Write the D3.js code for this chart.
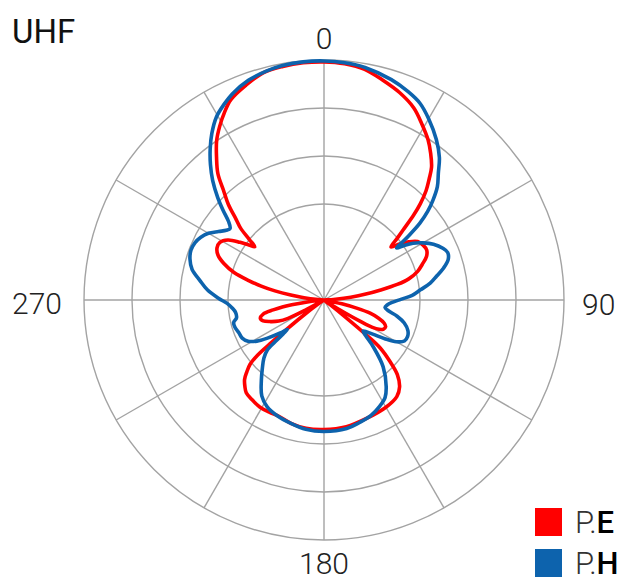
<!DOCTYPE html>
<html>
<head>
<meta charset="utf-8">
<script src="https://cdn.jsdelivr.net/npm/d3@7"></script>
<style>
  body { margin: 0; background: #fff; }
  text { font-family: Roboto, "Liberation Sans", sans-serif; }
</style>
</head>
<body>
<div id="chart"></div>
<script>
// pattern values (dB), angle in degrees clockwise from top
var eAngles = [0, 5, 10, 15, 20, 25, 29, 33, 36, 39, 41, 43, 45, 46.5, 48.5, 50, 51.6, 53.5, 55.5, 58,
  61, 64, 67, 70, 73, 76, 78, 80, 82, 84, 86, 88, 90, 95, 100, 102, 104, 106, 108.5, 111,
  113.5, 116, 118, 119.5, 120.5, 121.5, 123, 125, 127.5, 128.8, 129.6, 130.5, 133, 135.5, 139, 143, 150, 160, 170, 180,
  188, 195, 201, 206, 211, 216, 220, 222.5, 225, 227, 229, 230.3, 231, 231.8, 233, 235, 237.5, 240, 241.5, 243,
  245, 248, 251, 254, 257, 259, 260.5, 261.5, 263, 264.5, 267, 272, 274.5, 276.5, 278.5, 280.5, 282.5, 284.5,
  287, 290, 293, 296, 299, 302, 304.5, 306.2, 307.6, 309, 310.8, 312.5, 315, 317.5, 320, 323, 326, 329,
  332, 335, 340, 345, 350, 355];
var eGain = [-0.2, -0.3, -0.6, -1.3, -2.0, -2.9, -4.0, -5.1, -6.1, -7.2, -8.3, -9.4, -10.8, -12.1, -14.0, -15.1, -16.1, -15.2, -14.3, -13.5,
  -13.2, -13.1, -13.4, -14.1, -14.8, -15.9, -17.2, -19.0, -20.6, -22.2, -23.8, -24.7, -25, -25, -24.9, -23.1, -21.5, -20.0, -19.0, -18.3,
  -18.0, -18.1, -18.5, -19.2, -20.6, -22.3, -24.2, -25, -24.2, -21.9, -19.3, -17.3, -15.6, -14.1, -13.0, -12.4, -12.1, -11.9, -11.6, -11.5,
  -11.5, -11.7, -12.0, -12.0, -12.0, -12.2, -12.4, -12.8, -13.3, -14.0, -14.8, -16.0, -17.9, -20.0, -22.1, -24.2, -25, -24.6, -22.9, -20.8,
  -19.8, -19.0, -18.3, -18.1, -18.5, -19.6, -20.6, -21.6, -23.1, -24.4, -25, -25, -24.4, -22.9, -21.5, -19.8, -18.3, -16.9,
  -15.2, -13.9, -13.0, -12.6, -12.6, -13.2, -14.4, -15.3, -15.9, -15.0, -13.5, -12.6, -10.9, -9.5, -7.8, -6.4, -5.0, -3.9,
  -2.9, -2.0, -1.2, -0.5, -0.3, -0.2];

var hAngles = [0, 5, 10, 17, 22, 26, 30, 35, 39, 42, 45, 47.5, 49.5, 51.3, 53, 54.5, 55.8, 57.5, 60, 63,
  66.5, 69, 72, 75, 78, 81, 84, 87, 89.5, 92, 94.5, 97, 99.5, 102.5, 106, 110, 113.5, 117, 120, 122.5,
  125, 128.4, 130.5, 133.6, 138.5, 144.3, 148, 152.4, 158, 164, 170, 180, 188, 195, 202, 208, 213, 218, 222, 226,
  228.5, 229.5, 230.3, 231.2, 233, 236, 238.5, 241.5, 245, 249, 253, 256, 258.5, 262, 265, 268, 271, 275, 279, 283,
  287, 290.5, 294, 297, 300, 303, 305.5, 307.3, 309.5, 311.7, 314, 317, 320, 323, 326, 329.5, 333, 336, 341, 346,
  350, 355];
var hGain = [-0.1, -0.2, -0.4, -1.0, -1.6, -2.2, -3.2, -4.6, -5.9, -7.2, -8.3, -9.6, -10.8, -12.2, -14.1, -15.7, -14.9, -14.0, -13.1, -12.2,
  -11.5, -11.2, -11.4, -12.1, -13.0, -13.8, -14.9, -15.8, -17.0, -17.9, -18.4, -18.6, -18.2, -17.2, -16.3, -15.7, -15.5, -15.6, -16.3, -17.5,
  -18.8, -19.8, -19.3, -17.9, -15.7, -13.9, -13.0, -12.5, -12.0, -11.7, -11.4, -11.3, -11.4, -11.7, -12.0, -12.4, -13.1, -14.4, -15.4, -16.3,
  -17.1, -18.3, -19.5, -20.1, -19.3, -17.9, -16.8, -16.0, -15.6, -15.5, -15.3, -15.3, -15.7, -15.7, -15.4, -14.9, -14.0, -12.8, -11.9, -10.9,
  -10.4, -10.2, -10.3, -10.6, -11.1, -11.9, -12.5, -12.7, -12.1, -10.9, -9.6, -8.0, -6.6, -5.3, -4.1, -2.9, -2.1, -1.5, -0.8, -0.4,
  -0.2, -0.1];

var ringTicks = [-15, -10, -5, 0];
var spokeAngles = d3.range(0, 360, 30);
var axisLabels = [{a: 0, t: "0"}, {a: 90, t: "90"}, {a: 180, t: "180"}, {a: 270, t: "270"}];
var seriesNames = ["P.E", "P.H"];
var seriesColors = ["#ff0000", "#0d63ad"];

var svgWidth = 627;
var svgHeight = 581;
var cx = 324, cy = 300, radius = 240;

var svg = d3.select("#chart")
  .append("svg")
  .attr("width", svgWidth)
  .attr("height", svgHeight);

var g = svg.append("g")
  .attr("transform", `translate(${cx}, ${cy})`);

var rScale = d3.scaleLinear()
  .domain([-25, 0])
  .range([0, radius])
  .clamp(true);

var rad = d => d * Math.PI / 180;

// GRID
g.selectAll(".ring")
  .data(ringTicks)
  .enter()
  .append("circle")
  .attr("r", d => rScale(d))
  .attr("fill", "none")
  .attr("stroke", "#a3a3a3")
  .attr("stroke-width", 1.4);

g.selectAll(".spoke")
  .data(spokeAngles)
  .enter()
  .append("line")
  .attr("x1", 0).attr("y1", 0)
  .attr("x2", d => rScale(0) * Math.sin(rad(d)))
  .attr("y2", d => -rScale(0) * Math.cos(rad(d)))
  .attr("stroke", "#a3a3a3")
  .attr("stroke-width", 1.4);

// ANGLE LABELS
var labelPos = {
  0: {dx: 0, dy: -251, anchor: "middle"},
  90: {dx: 258, dy: 15, anchor: "start"},
  180: {dx: 0, dy: 274, anchor: "middle"},
  270: {dx: -262, dy: 14, anchor: "end"}
};
g.selectAll(".alabel")
  .data(axisLabels)
  .enter()
  .append("text")
  .attr("x", d => labelPos[d.a].dx)
  .attr("y", d => labelPos[d.a].dy)
  .attr("text-anchor", d => labelPos[d.a].anchor)
  .attr("font-size", 30)
  .attr("font-weight", 300)
  .attr("fill", "#222")
  .text(d => d.t);

// PATTERNS
var line = d3.lineRadial()
  .angle(d => rad(d[0]))
  .radius(d => rScale(d[1]))
  .curve(d3.curveCatmullRomClosed.alpha(0.5));

var eData = eAngles.map((a, i) => [a, eGain[i]]);
var hData = hAngles.map((a, i) => [a, hGain[i]]);

[eData, hData].forEach(function(data, i) {
  g.append("path")
    .datum(data)
    .attr("d", line)
    .attr("fill", "none")
    .attr("stroke", seriesColors[i])
    .attr("stroke-width", 3.6)
    .attr("stroke-linejoin", "round");
});

// TITLE
svg.append("text")
  .attr("x", 12)
  .attr("y", 43)
  .attr("font-size", 33)
  .attr("font-weight", 400)
  .attr("fill", "#111")
  .text("UHF");

// LEGEND
var legend = svg.selectAll(".legend")
  .data(seriesNames)
  .enter()
  .append("g")
  .attr("transform", (d, i) => `translate(535, ${508 + i * 41})`);

legend.append("rect")
  .attr("width", 27)
  .attr("height", 28)
  .attr("fill", (d, i) => seriesColors[i]);

var lt = legend.append("text")
  .attr("x", 40)
  .attr("y", 25)
  .attr("font-size", 31);
lt.append("tspan")
  .attr("font-weight", 300)
  .attr("fill", "#333")
  .text(d => d.split(".")[0] + ".");
lt.append("tspan")
  .attr("font-weight", 500)
  .attr("fill", "#000")
  .text(d => d.split(".")[1]);
</script>
</body>
</html>
